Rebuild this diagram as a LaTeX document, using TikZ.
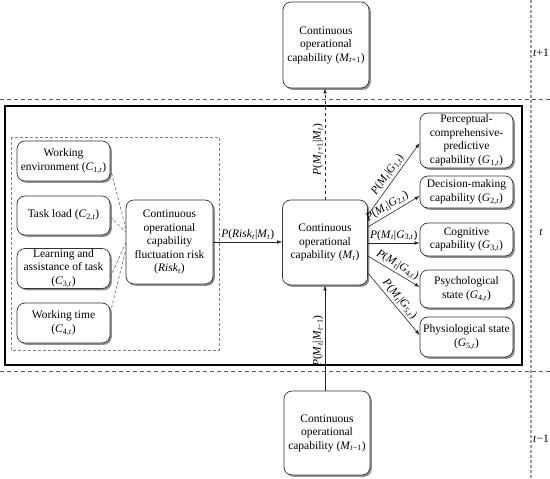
\documentclass[tikz,border=0pt]{standalone}
\usepackage{fontspec}
\setmainfont{Liberation Serif}
\usetikzlibrary{shadows,arrows.meta,calc}
\newcommand{\iv}[2]{\textit{#1}\textsubscript{#2}}
\newcommand{\ti}{\textit{t}}
\begin{document}
\begin{tikzpicture}[x=1pt,y=-1pt,
  box/.style={draw=black!80, line width=0.7pt, rounded corners=8pt, fill=white,
    drop shadow={shadow xshift=1.8pt, shadow yshift=-1.8pt, fill=black!55, opacity=0.8},
    align=center, inner sep=0pt, font=\fontsize{11.5}{13.5}\selectfont},
  lab/.style={font=\fontsize{11.5}{13.5}\selectfont, inner sep=1.5pt},
  arr/.style={draw=black!85, line width=0.6pt, -{Latex[length=5pt,width=3.6pt]}},
  sepline/.style={draw=black!65, line width=0.6pt, dash pattern=on 4pt off 3pt},
  feed/.style={draw=black!60, line width=0.6pt, dash pattern=on 3pt off 2pt}]
\useasboundingbox (0,0) rectangle (550,479);

% separators
\draw[sepline] (0,99) -- (550,99);
\draw[sepline] (0,371) -- (550,371);
\draw[draw=black!40, line width=1.2pt, dash pattern=on 3pt off 2pt] (531,0) -- (531,479);
\node[lab] (tp) at (541,53) {\ti+1};
\node[lab] (tc) at (541,232) {\ti};
\node[lab] (tm) at (541,439) {\ti−1};

% frames
\draw[line width=1.3pt] (5,106) rectangle (522,365);
\draw[feed, draw=black!50] (11,137) rectangle (219,350);

% nodes
\node[box, minimum width=86, minimum height=86] (Mtp) at (326,45) {Continuous\\operational\\capability (\iv{M}{\ti+1})};
\node[box, minimum width=85, minimum height=85] (Mt) at (325,242.5) {Continuous\\operational\\capability (\iv{M}{\ti})};
\node[box, minimum width=86, minimum height=84] (Mtm) at (327,433) {Continuous\\operational\\capability (\iv{M}{\ti−1})};
\node[box, minimum width=87, minimum height=84] (Risk) at (169.5,242) {Continuous\\operational\\capability\\fluctuation risk\\(\iv{Risk}{\ti})};
\node[box, minimum width=93, minimum height=40] (C1) at (63.5,161) {Working\\environment (\iv{C}{1,\ti})};
\node[box, minimum width=93, minimum height=39] (C2) at (63.5,215.5) {Task load (\iv{C}{2,\ti})};
\node[box, minimum width=93, minimum height=40] (C3) at (63.5,268.5) {Learning and\\assistance of task\\(\iv{C}{3,\ti})};
\node[box, minimum width=93, minimum height=40] (C4) at (63.5,323) {Working time\\(\iv{C}{4,\ti})};
\node[box, minimum width=93, minimum height=55] (G1) at (466.5,140.5) {Perceptual-\\comprehensive-\\predictive\\capability (\iv{G}{1,\ti})};
\node[box, minimum width=93, minimum height=32] (G2) at (466.5,192) {Decision-making\\capability (\iv{G}{2,\ti})};
\node[box, minimum width=93, minimum height=33] (G3) at (466.5,239.5) {Cognitive\\capability (\iv{G}{3,\ti})};
\node[box, minimum width=93, minimum height=38] (G4) at (466.5,289) {Psychological\\state (\iv{G}{4,\ti})};
\node[box, minimum width=93, minimum height=40] (G5) at (466.5,337) {Physiological state\\(\iv{G}{5,\ti})};

% factor links
\draw[feed] ($(C1.east)+(0,7)$) -- ($(Risk.west)+(0,-14)$);
\draw[feed] ($(C2.east)+(0,1.5)$) -- ($(Risk.west)+(0,-10)$);
\draw[feed] ($(C3.east)+(0,8.5)$) -- ($(Risk.west)+(0,1)$);
\draw[feed] ($(C4.east)+(0,-10)$) -- ($(Risk.west)+(0,8)$);

% main links
\draw[arr] (Risk.east) -- (Mt.west |- Risk.east) node[lab, midway, above] {\textit{P}(\iv{Risk}{\ti}|\iv{M}{\ti})};
\draw[arr, dashed] (Mt.north) -- (Mt.north |- Mtp.south) node[lab, pos=0.45, rotate=90, anchor=south] {\textit{P}(\iv{M}{\ti+1}|\iv{M}{\ti})};
\draw[arr] (Mtm.north -| Mt.south) -- (Mt.south) node[lab, pos=0.47, rotate=90, anchor=south] {\textit{P}(\iv{M}{\ti}|\iv{M}{\ti−1})};

\draw[arr] ($(Mt.east)+(0,-27.5)$) -- ($(G1.west)+(0,2.5)$) node[lab, midway, sloped, above] {\textit{P}(\iv{M}{\ti}|\iv{G}{1,\ti})};
\draw[arr] ($(Mt.east)+(0,-15.5)$) -- ($(G2.west)+(0,4)$) node[lab, pos=0.45, sloped, above] {\textit{P}(\iv{M}{\ti}|\iv{G}{2,\ti})};
\draw[arr] ($(Mt.east)+(0,0.5)$) -- ($(G3.west)+(0,3.5)$) node[lab, midway, above] {\textit{P}(\iv{M}{\ti}|\iv{G}{3,\ti})};
\draw[arr] ($(Mt.east)+(0,13.5)$) -- ($(G4.west)+(0,-2)$) node[lab, midway, sloped, above] {\textit{P}(\iv{M}{\ti}|\iv{G}{4,\ti})};
\draw[arr] ($(Mt.east)+(0,30.5)$) -- ($(G5.west)+(0,-2)$) node[lab, midway, sloped, above] {\textit{P}(\iv{M}{\ti}|\iv{G}{5,\ti})};
\end{tikzpicture}
\end{document}
